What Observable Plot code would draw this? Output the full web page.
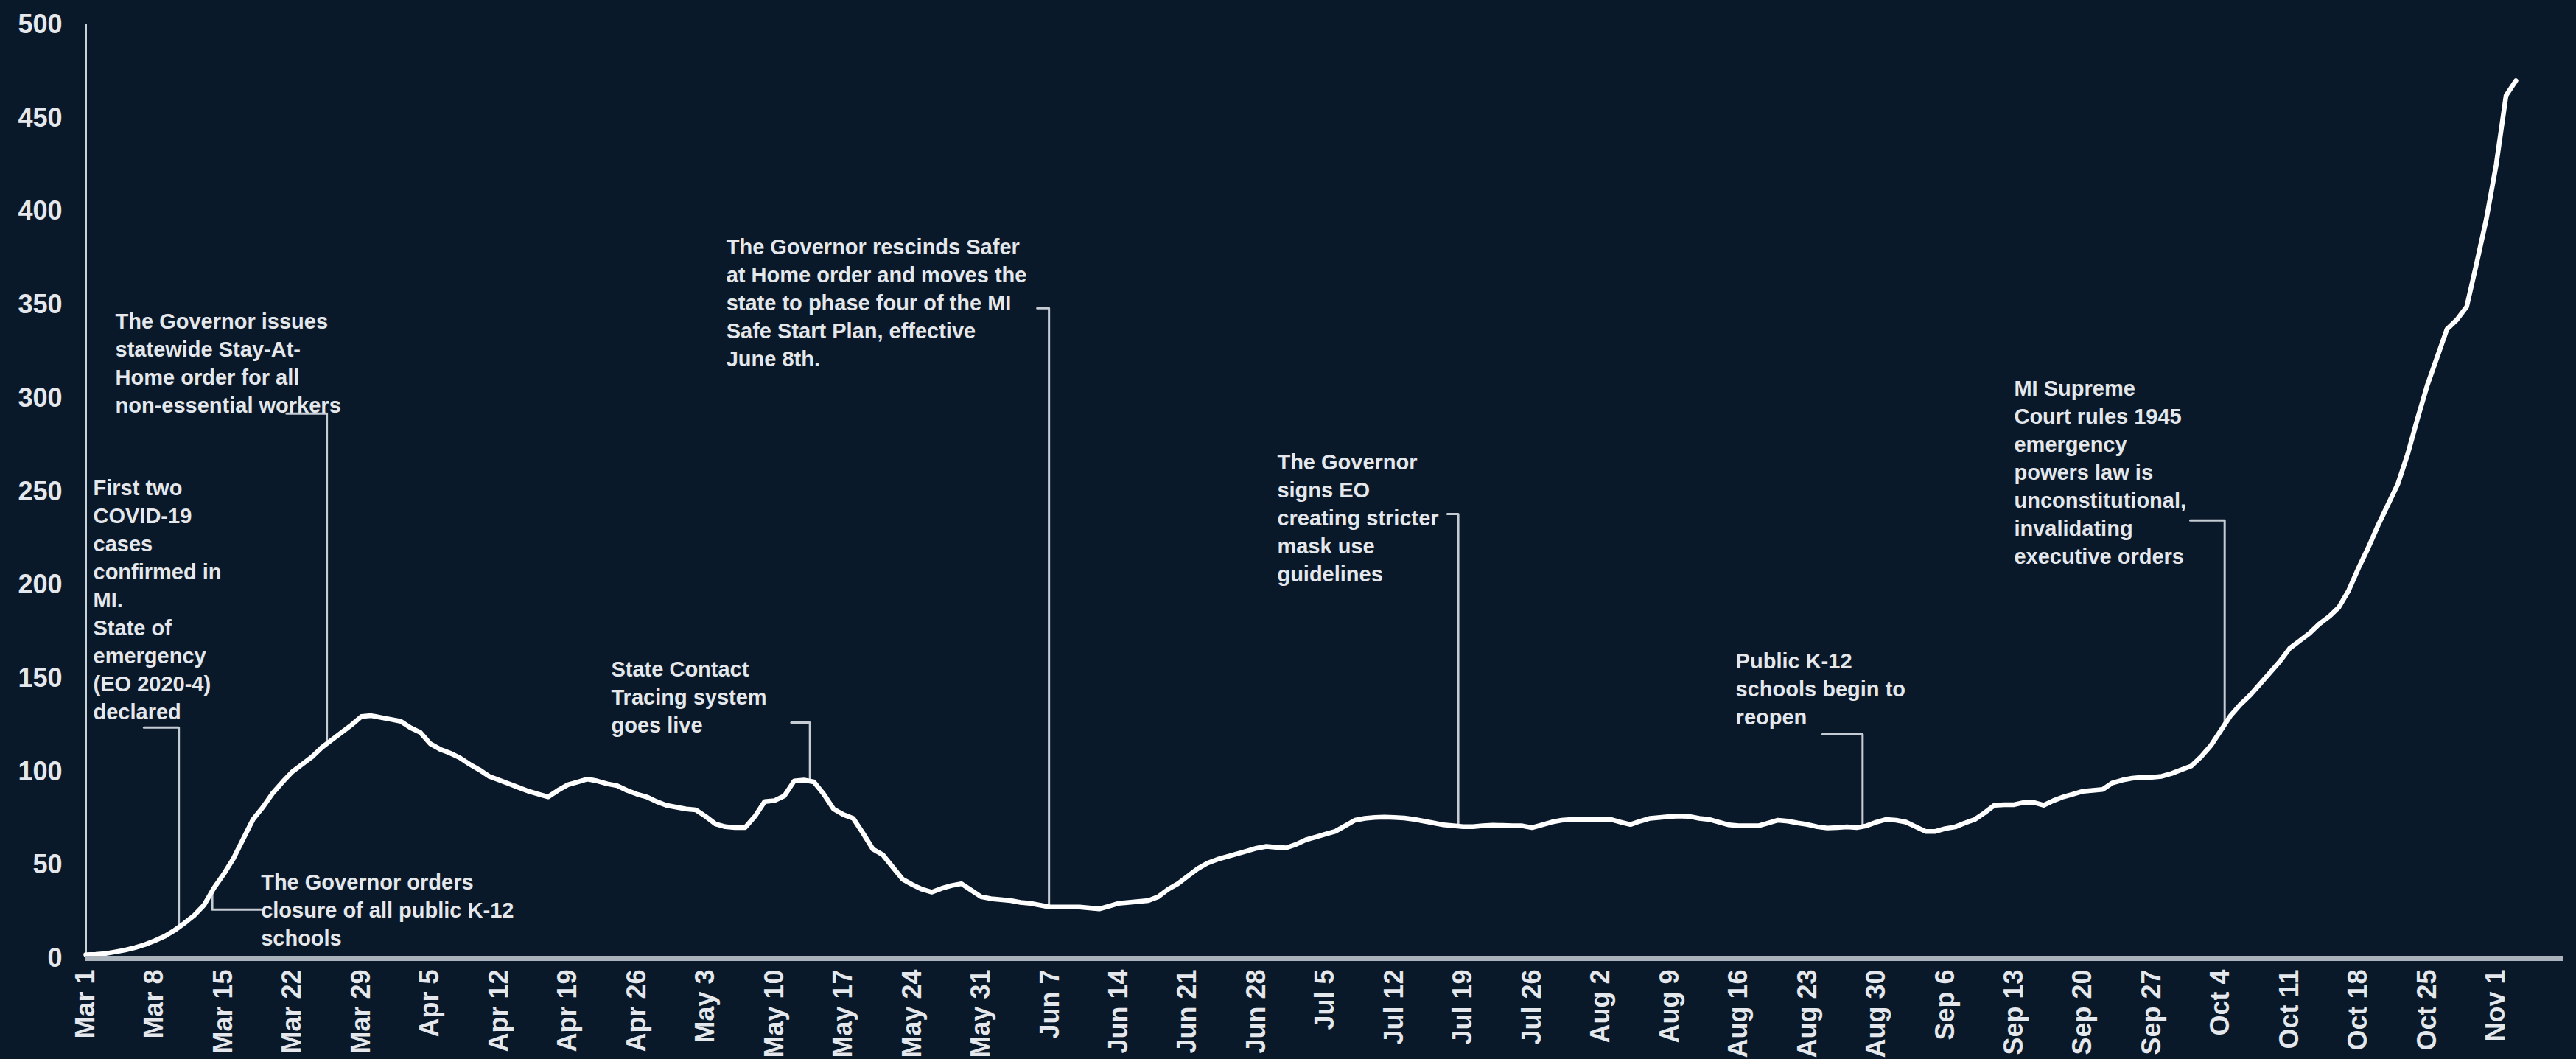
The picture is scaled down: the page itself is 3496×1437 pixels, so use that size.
<!DOCTYPE html>
<html>
<head>
<meta charset="utf-8">
<script src="https://cdn.jsdelivr.net/npm/d3@7"></script>
<script src="https://cdn.jsdelivr.net/npm/@observablehq/plot@0.6"></script>
<style>
  html, body { margin: 0; padding: 0; background: #0a1929; }
  #chart svg { display: block; }
</style>
</head>
<body>
<div id="chart"></div>
<script>
// ---- data ----
const startDate = "2020-03-01";
// daily 7-day average values, starting Mar 1, 2020
const values = [
  2.0, 2.2, 2.6, 3.5, 4.5, 5.8, 7.4, 9.5, 11.8, 15,
  18.8, 23, 28.5, 37.5, 45, 53.5, 64, 74.5, 81, 88.5,
  94.5, 100, 104, 108, 113, 117, 121, 125, 129.5, 130,
  129, 128, 127, 123.5, 121, 115, 112, 110, 107.5, 104,
  101, 97.5, 95.5, 93.5, 91.5, 89.5, 88, 86.5, 90, 93,
  94.5, 96, 95, 93.5, 92.5, 90, 88, 86.5, 84, 82,
  81, 80, 79.5, 76, 72, 70.5, 70, 70, 76, 84,
  84.5, 87, 95, 95.5, 94.5, 88, 80, 77, 75, 67,
  58.5, 55.5, 49, 42.5, 39.5, 37, 35.5, 37.5, 39, 40,
  36.5, 33, 32, 31.5, 31, 30, 29.5, 28.5, 27.5, 27.5,
  27.5, 27.5, 27, 26.5, 28, 29.5, 30, 30.5, 31, 33,
  37, 40, 44, 48, 51, 53, 54.5, 56, 57.5, 59,
  60, 59.5, 59.2, 61, 63.5, 65, 66.5, 68, 71, 74,
  75, 75.5, 75.7, 75.5, 75.2, 74.5, 73.5, 72.5, 71.5, 71,
  70.5, 70.5, 71, 71.3, 71.2, 71, 71, 70, 71.5, 73,
  74, 74.4, 74.4, 74.4, 74.4, 74.4, 73, 71.7, 73.5, 75,
  75.5, 76, 76.3, 76, 75, 74.4, 73, 71.5, 71, 71,
  71, 72.5, 74, 73.5, 72.5, 71.7, 70.5, 69.8, 70, 70.4,
  70, 71, 73, 74.4, 74, 73, 70.5, 68, 68, 69.5,
  70.4, 72.5, 74.4, 78, 82, 82.3, 82.3, 83.5, 83.5, 82,
  84.5, 86.5, 88, 89.5, 90, 90.5, 94, 95.5, 96.5, 97,
  97, 97.5, 99, 101, 103, 108, 114, 122, 130, 136,
  141, 147, 153, 159, 166, 170, 174, 179, 183, 188,
  197, 209, 220, 232, 243, 254, 270, 289, 307, 322,
  337, 342, 349, 372, 396, 425, 462, 470
];
const tickDates = [
  "2020-03-01","2020-03-08","2020-03-15","2020-03-22","2020-03-29",
  "2020-04-05","2020-04-12","2020-04-19","2020-04-26",
  "2020-05-03","2020-05-10","2020-05-17","2020-05-24","2020-05-31",
  "2020-06-07","2020-06-14","2020-06-21","2020-06-28",
  "2020-07-05","2020-07-12","2020-07-19","2020-07-26",
  "2020-08-02","2020-08-09","2020-08-16","2020-08-23","2020-08-30",
  "2020-09-06","2020-09-13","2020-09-20","2020-09-27",
  "2020-10-04","2020-10-11","2020-10-18","2020-10-25","2020-11-01"
];
const yTicks = [0, 50, 100, 150, 200, 250, 300, 350, 400, 450, 500];
const annotationTexts = [
  "First two\nCOVID-19\ncases\nconfirmed in\nMI.\nState of\nemergency\n(EO 2020-4)\ndeclared",
  "The Governor orders\nclosure of all public K-12\nschools",
  "The Governor issues\nstatewide Stay-At-\nHome order for all\nnon-essential workers",
  "State Contact\nTracing system\ngoes live",
  "The Governor rescinds Safer\nat Home order and moves the\nstate to phase four of the MI\nSafe Start Plan, effective\nJune 8th.",
  "The Governor\nsigns EO\ncreating stricter\nmask use\nguidelines",
  "Public K-12\nschools begin to\nreopen",
  "MI Supreme\nCourt rules 1945\nemergency\npowers law is\nunconstitutional,\ninvalidating\nexecutive orders"
];
// event anchor (days after Mar 1) where each leader meets the line
const annotationDays = [9.45, 12.85, 24.5, 73.6, 97.9, 139.5, 180.6, 217.4];

// ---- layout (data units: days after Mar 1, value) ----
const layout = [
  {tx: 0.75,  ty: 258.7, hx: 5.9,   hy: 123.6},
  {tx: 17.8,  ty: 47.5,  hx: 17.8,  hy: 26.1},
  {tx: 3.0,   ty: 348.0, hx: 20.4,  hy: 291.7},
  {tx: 53.4,  ty: 161.6, hx: 71.7,  hy: 126.3},
  {tx: 65.1,  ty: 387.8, hx: 96.7,  hy: 348.2},
  {tx: 121.1, ty: 272.6, hx: 138.4, hy: 238.0},
  {tx: 167.7, ty: 166.0, hx: 176.5, hy: 120.0},
  {tx: 196.0, ty: 312.0, hx: 213.9, hy: 234.5}
];

const t0 = new Date(startDate + "T00:00:00Z").getTime();
const dayToDate = d => new Date(t0 + d * 864e5);
const series = values.map((v, i) => ({date: dayToDate(i), value: v}));
const valueAt = d => {
  const i = Math.floor(d), f = d - i;
  const a = values[Math.min(i, values.length - 1)], b = values[Math.min(i + 1, values.length - 1)];
  return a + (b - a) * f;
};

const textData = annotationTexts.map((t, i) => ({text: t, x: dayToDate(layout[i].tx), y: layout[i].ty}));
const leaderData = [];
annotationDays.forEach((ad, i) => {
  const L = layout[i];
  const start = i === 1 ? 17.8 : L.hx;
  leaderData.push({k: i, x: dayToDate(start), y: L.hy});
  leaderData.push({k: i, x: dayToDate(ad), y: L.hy});
  leaderData.push({k: i, x: dayToDate(ad), y: valueAt(ad)});
});

const textColor = "#e4e8ec";
const font = "'Liberation Sans', Arial, Helvetica, sans-serif";

const chart = Plot.plot({
  width: 3496,
  height: 1437,
  marginLeft: 116,
  marginRight: 18,
  marginTop: 33,
  marginBottom: 137,
  style: {background: "#0a1929", color: textColor, fontFamily: font, maxWidth: "none"},
  x: {type: "utc", domain: [dayToDate(0), dayToDate(251.8)]},
  y: {domain: [0, 500]},
  marks: [
    Plot.axisY({ticks: yTicks, tickSize: 0, tickPadding: 32, fontSize: 36, fontWeight: "bold", fill: textColor, label: null}),
    Plot.axisX({ticks: tickDates.map(d => new Date(d + "T00:00:00Z")), tickFormat: d3.utcFormat("%b %-d"),
      tickRotate: -90, tickSize: 0, tickPadding: 15, fontSize: 36, fontWeight: "bold", fill: textColor, label: null}),
    Plot.ruleX([dayToDate(0)], {y1: 0, y2: 500, stroke: "#c8d0d8", strokeWidth: 3}),
    Plot.line(leaderData, {x: "x", y: "y", z: "k", stroke: "#c5ccd3", strokeWidth: 3, curve: "linear"}),
    Plot.line(series, {x: "date", y: "value", stroke: "#ffffff", strokeWidth: 6.5, strokeLinejoin: "round", strokeLinecap: "round"}),
    Plot.ruleY([0], {stroke: "#aab3bc", strokeWidth: 7}),
    Plot.text(textData, {x: "x", y: "y", text: "text", textAnchor: "start", lineAnchor: "top", lineHeight: 1.31,
      fontSize: 29, fontWeight: "bold", fill: textColor})
  ]
});
document.getElementById("chart").appendChild(chart);
</script>
</body>
</html>
